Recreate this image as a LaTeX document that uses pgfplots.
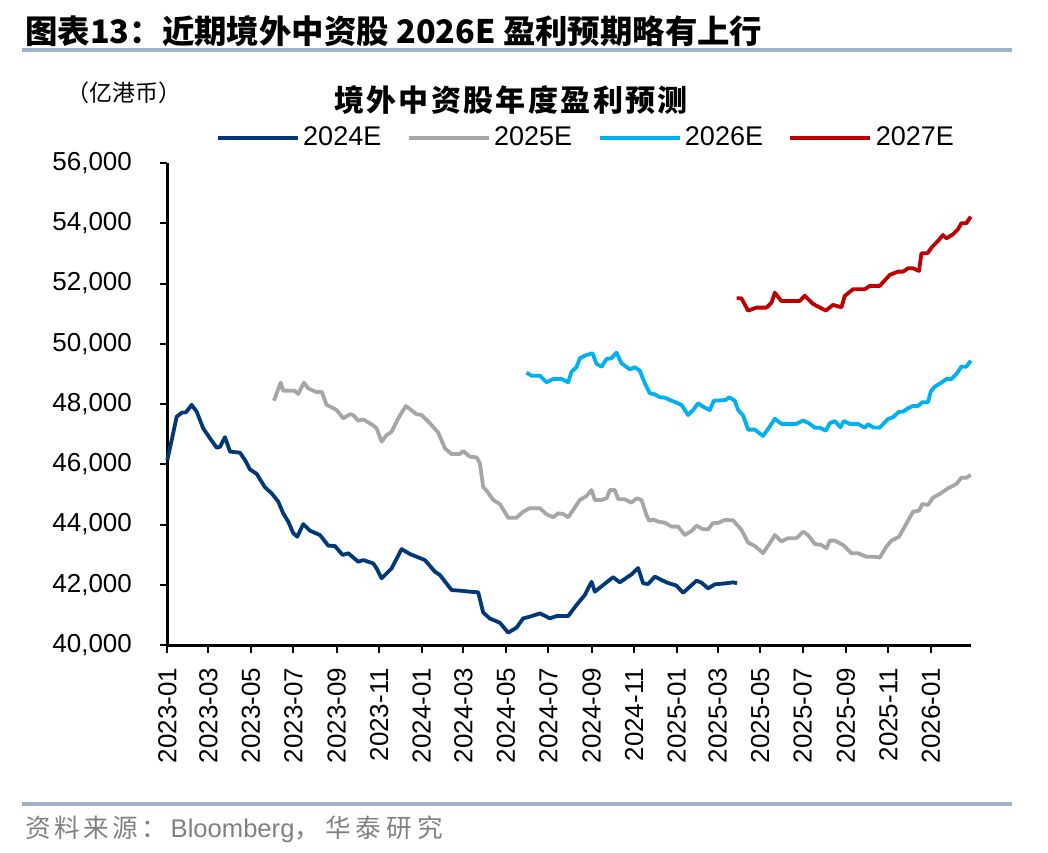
\documentclass[border=0pt]{standalone}
\usepackage{fontspec}
\usepackage{pgfplots}
\pgfplotsset{compat=1.18}
\setmainfont{Liberation Sans}
\newfontfamily\cjk{Noto Sans CJK SC}

\definecolor{c24}{RGB}{0,56,120}
\definecolor{c25}{RGB}{166,166,166}
\definecolor{c26}{RGB}{0,176,240}
\definecolor{c27}{RGB}{192,0,0}
\definecolor{rule}{RGB}{158,178,200}
\definecolor{src}{RGB}{128,128,128}

\begin{document}
\begin{tikzpicture}[x=0.5pt,y=-0.5pt]
\path[use as bounding box] (0,0) rectangle (1048,852);

% header and footer
\node[anchor=base west,inner sep=0pt,font=\cjk\bfseries\fontsize{16.2pt}{18pt}\selectfont] at (25,43)
  {图表13：近期境外中资股 2026E 盈利预期略有上行};
\draw[rule,line width=1.75pt] (22,50) -- (1012,50);
\draw[rule,line width=1.75pt] (22,804) -- (1012,804);
\node[anchor=west,inner sep=0pt,text=src,font=\fontsize{12.8pt}{14pt}\selectfont] at (25,829)
  {{\cjk\addfontfeatures{LetterSpace=13}资料来源：}\hspace{2pt}Bloomberg{\cjk\addfontfeatures{LetterSpace=20}，华泰研究}};

\node[inner sep=0pt,font=\cjk\fontsize{11.5pt}{13pt}\selectfont] at (124,93) {（亿港币）};
\node[inner sep=0pt,font=\cjk\bfseries\fontsize{15pt}{17pt}\selectfont] at (511,100)
  {\addfontfeatures{LetterSpace=8}境外中资股年度盈利预测};

\begin{axis}[
    at={(83.65pt,-322.5pt)}, anchor=south west,
    width=401.7pt, height=241pt, scale only axis,
    xmin=0, xmax=1153, ymin=40000, ymax=56000,
    axis x line=bottom, axis y line=left,
    axis line style={-, line width=1.5pt, black},
    tick align=outside, major tick length=3.75pt,
    tick style={black, line width=1pt},
    xtick={0,59,120,181,243,304,365,425,486,547,609,670,731,790,851,912,974,1035,1096},
    xticklabels={2023-01,2023-03,2023-05,2023-07,2023-09,2023-11,2024-01,2024-03,2024-05,2024-07,2024-09,2024-11,2025-01,2025-03,2025-05,2025-07,2025-09,2025-11,2026-01},
    x tick label style={rotate=90, anchor=east, inner sep=0pt, font=\fontsize{13pt}{15pt}\selectfont},
    xticklabel shift=7.5pt,
    ytick={40000,42000,...,56000},
    scaled y ticks=false,
    y tick label style={inner sep=0pt, font=\fontsize{13pt}{15pt}\selectfont},
    yticklabel shift=13.75pt,
    /pgf/number format/.cd, 1000 sep={,}, assume math mode=true, /pgfplots/.cd,
    clip=false,
    legend columns=4,
    legend style={at={(0.522,1.052)}, anchor=center, draw=none, fill=none,
      font=\fontsize{13.5pt}{15pt}\selectfont,
      /tikz/every even column/.append style={column sep=11pt},
      nodes={inner ysep=0pt, inner xsep=1.75pt}},
    legend image code/.code={\draw[#1] (0pt,0pt) -- (40pt,0pt);},
    every axis plot/.append style={line width=1.9pt, line join=round},
  ]

\addplot[c24] coordinates {
(0,46140) (6.3,46800) (13.5,47580) (20.7,47710) (26.8,47725) (35,47970) (42.2,47745)
(51.6,47190) (61.3,46860) (70.9,46550) (75.6,46580) (82.8,46900) (90,46420) (104.3,46385)
(111.5,46140) (118.6,45830) (128.3,45680) (140.2,45235) (149.8,45035) (159.2,44760)
(166.4,44370) (173.6,44095) (180.8,43710) (186.5,43595) (195.1,44015) (204.7,43795)
(219.1,43650) (231,43300) (240.6,43285) (251.6,42990) (259.7,43045) (274,42765)
(281.2,42820) (295.5,42710) (300.4,42545) (307.6,42215) (314.8,42380) (321.9,42545)
(336.3,43185) (348.2,43020) (369.7,42820) (384,42435) (391.2,42325) (408,41825)
(422.3,41800) (434.3,41770) (446.2,41750) (453.3,41080) (462.9,40880) (477.3,40740)
(489.2,40410) (501.2,40575) (510.7,40885) (520.3,40940) (534.7,41050) (549,40885)
(558.6,40960) (575.3,40960) (587.3,41330) (599.2,41660) (608.8,42100) (613.6,41770)
(625.5,41990) (639.8,42250) (649.4,42080) (666.2,42345) (675.7,42555) (682.9,42050)
(690,42025) (699.7,42270) (716.4,42080) (730.8,41970) (740.3,41735) (749.9,41935)
(759.5,42135) (766.6,42070) (776.1,41880) (785.7,42015) (802.5,42050) (812,42080)
(817.7,42050)
};
\addlegendentry{2024E}

\addplot[c25] coordinates {
(153.1,48110) (156.9,48355) (162.7,48710) (166.4,48445) (176,48445) (183.2,48435)
(187.9,48335) (196.1,48710) (202.3,48520) (214.3,48390) (221.5,48410) (228.7,47970)
(235.8,47890) (243,47800) (252.5,47525) (262.1,47660) (266.8,47635) (274,47445)
(281.2,47490) (293.2,47325) (300.4,47195) (307.6,46750) (314.8,46970) (321.9,47080)
(331.4,47525) (342.4,47935) (357.8,47660) (365,47635) (376.9,47360) (388.8,47050)
(398.4,46530) (408,46340) (419.9,46340) (424.6,46440) (434.3,46250) (443.9,46230)
(448.6,46030) (453.3,45255) (460.5,45055) (467.7,44815) (477.3,44680) (489.2,44225)
(501.2,44225) (510.7,44425) (520.3,44540) (534.7,44540) (544.3,44340) (553.8,44240)
(560.9,44370) (568.1,44350) (575.3,44240) (582.4,44480) (592.1,44815) (601.7,44945)
(608.8,45145) (613.6,44815) (623.2,44815) (630.4,44870) (635.1,45145) (642.3,45145)
(647,44845) (656.6,44835) (666.2,44725) (673.4,44870) (680.6,44815) (687.7,44315)
(691.5,44125) (697.2,44170) (704.4,44095) (714,44060) (723.6,43930) (733.1,43930)
(742.7,43650) (752.3,43785) (759.5,43960) (768.9,43840) (776.1,43840) (783.3,44050)
(790.5,44050) (800.1,44150) (812,44140) (824,43820) (833.5,43400) (843.1,43290)
(855,43050) (864.6,43375) (871.8,43650) (881.4,43440) (890.9,43545) (902.9,43545)
(912.4,43760) (919.6,43650) (929.2,43355) (938.8,43320) (946,43210) (950.7,43465)
(957.9,43465) (969.8,43320) (981.8,43045) (991.3,43045) (1003.4,42930) (1015.3,42930)
(1022.4,42900) (1032,43265) (1039.2,43465) (1050.1,43595) (1058.3,43930) (1070.2,44425)
(1078.8,44460) (1083.7,44680) (1091.7,44650) (1098.9,44890) (1108.5,45015) (1120.4,45200)
(1132.5,45345) (1139.6,45555) (1146.8,45555) (1153,45645)
};
\addlegendentry{2025E}

\addplot[c26] coordinates {
(515.6,49040) (522.8,48940) (534.7,48940) (544.3,48720) (553.8,48830) (565.8,48830)
(575.3,48720) (580.2,49075) (587.3,49220) (592.1,49520) (599.2,49605) (610.3,49685)
(616,49330) (623.2,49240) (630.4,49495) (637.5,49520) (644.7,49705) (651.9,49350)
(663.8,49150) (671,49220) (678.1,49105) (685.3,48690) (692.5,48355) (699.7,48320)
(706.8,48225) (714,48210) (721.2,48135) (730.8,48045) (738,47970) (747.4,47635)
(754.6,47800) (761.8,48025) (768.9,47910) (778.6,47800) (784.3,48110) (792.9,48120)
(801.5,48135) (806.2,48225) (814.4,48110) (819.2,47800) (826.3,47620) (833.5,47150)
(843.1,47150) (855,46940) (864.6,47250) (871.8,47510) (881.4,47340) (902.9,47340)
(912.4,47450) (919.6,47380) (929.2,47215) (936.4,47215) (945,47115) (950.7,47360)
(957.9,47435) (966.1,47225) (970.8,47435) (979.4,47340) (991.3,47340) (1000.9,47215)
(1005.7,47330) (1012.8,47225) (1022.4,47215) (1034.3,47505) (1041.5,47560) (1050.1,47745)
(1055.9,47745) (1063,47860) (1070.2,47935) (1077.4,47935) (1083.7,48060) (1091.7,48060)
(1095.6,48410) (1101.3,48575) (1111,48710) (1118.1,48830) (1125.3,48830) (1132.5,49000)
(1139.6,49240) (1146.8,49240) (1153,49440)
};
\addlegendentry{2026E}

\addplot[c27] coordinates {
(816.9,51510) (824,51510) (833.5,51100) (845.6,51200) (859.9,51200) (867.1,51365)
(871.8,51695) (881.4,51420) (907.7,51420) (914.8,51595) (926.8,51320) (945,51100)
(955.4,51290) (967.5,51210) (972.2,51585) (984.1,51810) (1000.9,51810) (1008.1,51920)
(1022.4,51920) (1036.8,52285) (1048.7,52395) (1055.9,52395) (1063,52505) (1070.2,52505)
(1078.8,52415) (1082.3,53005) (1090.9,53005) (1098,53225) (1106.1,53415) (1113.2,53610)
(1118.1,53500) (1127.6,53635) (1134.8,53800) (1139.6,54000) (1146.8,54000) (1153,54220)
};
\addlegendentry{2027E}

\end{axis}
\end{tikzpicture}
\end{document}
